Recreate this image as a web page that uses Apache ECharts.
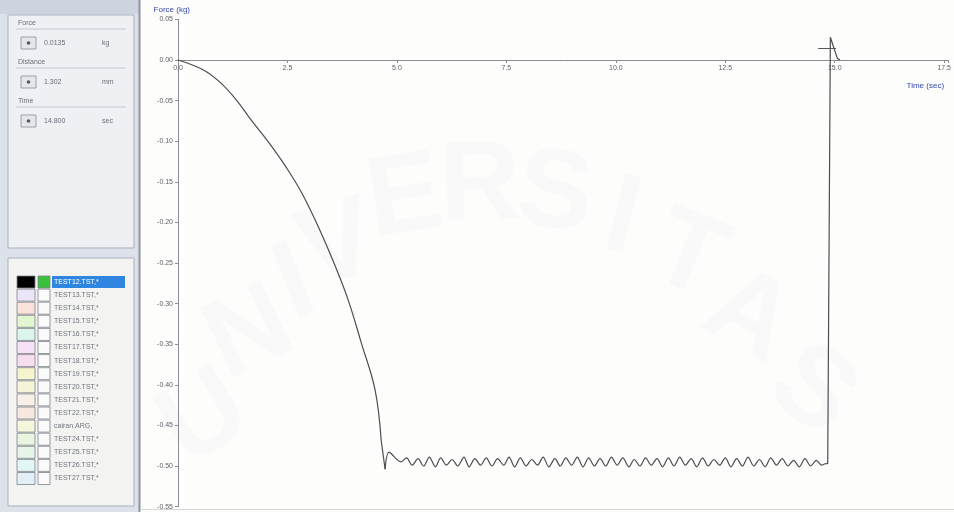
<!DOCTYPE html>
<html>
<head>
<meta charset="utf-8">
<script src="https://cdn.jsdelivr.net/npm/echarts@6/dist/echarts.min.js"></script>
<style>
  html, body { margin: 0; padding: 0; background: #fdfdfb; }
  #chart { width: 954px; height: 512px; }
</style>
</head>
<body>
<div id="chart"></div>
<script>
// Test record: force (kg) against time (sec)
const timeSec = [
  0.00, 0.57, 0.95, 1.33, 1.70, 2.08, 2.47, 2.83, 3.21, 3.60, 3.89, 4.19, 4.50, 4.64, 4.73, 4.82, 5.09,
  5.22, 5.35, 5.48, 5.61, 5.74, 5.88, 6.00, 6.13, 6.26, 6.39, 6.53, 6.65, 6.78, 6.91, 7.04, 7.17,
  7.30, 7.44, 7.56, 7.69, 7.82, 7.95, 8.08, 8.21, 8.34, 8.47, 8.61, 8.73, 8.86, 8.99, 9.12, 9.25,
  9.38, 9.51, 9.64, 9.77, 9.90, 10.03, 10.16, 10.30, 10.42, 10.55, 10.68, 10.81, 10.94, 11.07, 11.20,
  11.33, 11.46, 11.59, 11.72, 11.85, 11.98, 12.11, 12.24, 12.37, 12.50, 12.63, 12.76, 12.89, 13.02,
  13.15, 13.28, 13.41, 13.54, 13.67, 13.80, 13.93, 14.06, 14.19, 14.32, 14.45, 14.58, 14.70, 14.79,
  14.84, 14.90, 15.06, 15.12
];
const forceKg = [
  0.000, -0.012, -0.027, -0.049, -0.076, -0.102, -0.132, -0.164, -0.206, -0.255, -0.296, -0.349, -0.406, -0.468, -0.504, -0.483, -0.495,
  -0.490, -0.499, -0.491, -0.500, -0.489, -0.501, -0.490, -0.499, -0.492, -0.500, -0.489, -0.501, -0.491, -0.499, -0.490, -0.500,
  -0.491, -0.499, -0.489, -0.501, -0.490, -0.500, -0.492, -0.499, -0.489, -0.501, -0.491, -0.500, -0.490, -0.499, -0.489, -0.501,
  -0.490, -0.500, -0.491, -0.500, -0.489, -0.499, -0.490, -0.501, -0.492, -0.500, -0.490, -0.499, -0.491, -0.501, -0.490,
  -0.500, -0.489, -0.499, -0.491, -0.501, -0.490, -0.500, -0.492, -0.499, -0.490, -0.501, -0.491, -0.500, -0.489,
  -0.500, -0.492, -0.501, -0.490, -0.499, -0.491, -0.500, -0.493, -0.501, -0.491, -0.500, -0.493, -0.499, -0.497,
  -0.497, 0.028, 0.002, 0.000
];
// sample indices splitting the trace: loading ramp | peak and hold | release
const rampEnd = 13;
const peakAt = 14;
const releaseAt = 91;
const yTicks = [0.05, 0.00, -0.05, -0.10, -0.15, -0.20, -0.25, -0.30, -0.35, -0.40, -0.45, -0.50, -0.55];
const cursorPoint = [14.90, 0.015];

// Side panel contents
const readoutNames = ['Force', 'Distance', 'Time'];
const readoutValues = ['0.0135', '1.302', '14.800'];
const readoutUnits = ['kg', 'mm', 'sec'];
const fileNames = [
  'TEST12.TST,*', 'TEST13.TST,*', 'TEST14.TST,*', 'TEST15.TST,*', 'TEST16.TST,*', 'TEST17.TST,*',
  'TEST18.TST,*', 'TEST19.TST,*', 'TEST20.TST,*', 'TEST21.TST,*', 'TEST22.TST,*', 'cairan.ARG,',
  'TEST24.TST,*', 'TEST25.TST,*', 'TEST26.TST,*', 'TEST27.TST,*'
];
const fileColors = [
  '#000000', '#ece4f8', '#fae2da', '#e2f6d2', '#dcf6ee', '#f6e2f6', '#f8dcf0', '#f6f4cc',
  '#f6f4d8', '#f8f0e6', '#f8e8e2', '#f6f6dc', '#e8f6e0', '#e8f6ea', '#e2f6f6', '#e2eef8'
];
const watermark = 'UNIVERSITAS'.split('');

const chart = echarts.init(document.getElementById('chart'), null, { renderer: 'canvas' });

const font = 'Liberation Sans, Arial, sans-serif';
const graphics = [];

// faint background lettering behind the plot
const wmPos = [[205, 420, 0.55], [250, 335, 0.45], [295, 285, 0.38], [338, 248, 0.3], [405, 200, 0.15],
  [480, 188, 0.02], [555, 196, -0.1], [622, 220, -0.25], [688, 258, -0.38], [748, 318, -0.5], [812, 392, -0.62]];
watermark.forEach((ch, i) => {
  graphics.push({
    type: 'text', x: wmPos[i][0], y: wmPos[i][1], rotation: wmPos[i][2], z: -10,
    style: { text: ch, font: 'bold 112px Liberation Sans, Arial', fill: 'rgba(210,210,236,0.08)',
      textAlign: 'center', textVerticalAlign: 'middle' }
  });
});

// side panel frame
graphics.push({ type: 'rect', shape: { x: 0, y: 0, width: 139, height: 512 }, style: { fill: '#dde1ea' }, z: 1 });
graphics.push({ type: 'rect', shape: { x: 0, y: 0, width: 139, height: 14 }, style: { fill: '#cdd3df' }, z: 1 });
graphics.push({ type: 'line', shape: { x1: 139.5, y1: 0, x2: 139.5, y2: 512 }, style: { stroke: '#8d93a0', lineWidth: 2 }, z: 2 });
graphics.push({ type: 'rect', shape: { x: 8, y: 15, width: 126, height: 233 }, style: { fill: '#eef0f4', stroke: '#aab1be', lineWidth: 1 }, z: 2 });
graphics.push({ type: 'rect', shape: { x: 8, y: 258, width: 126, height: 248 }, style: { fill: '#f3f4f2', stroke: '#aab1be', lineWidth: 1 }, z: 2 });

readoutNames.forEach((name, i) => {
  const top = 20 + i * 39;
  graphics.push({ type: 'text', x: 18, y: top + 3, z: 3,
    style: { text: name, font: '7px ' + font, fill: '#6a6f78', textVerticalAlign: 'middle' } });
  graphics.push({ type: 'line', shape: { x1: 16, y1: top + 9, x2: 126, y2: top + 9 }, style: { stroke: '#c4c9d2', lineWidth: 1 }, z: 3 });
  graphics.push({ type: 'rect', shape: { x: 21, y: top + 17, width: 15, height: 12 }, style: { fill: '#e4e6ea', stroke: '#9aa0aa', lineWidth: 1 }, z: 3 });
  graphics.push({ type: 'circle', shape: { cx: 28.5, cy: top + 23, r: 1.8 }, style: { fill: '#55585e' }, z: 4 });
  graphics.push({ type: 'text', x: 44, y: top + 23, z: 3,
    style: { text: readoutValues[i], font: '7px ' + font, fill: '#6a6f78', textVerticalAlign: 'middle' } });
  graphics.push({ type: 'text', x: 102, y: top + 23, z: 3,
    style: { text: readoutUnits[i], font: '7px ' + font, fill: '#6a6f78', textVerticalAlign: 'middle' } });
});

fileNames.forEach((name, i) => {
  const cy = 282 + i * 13.1;
  graphics.push({ type: 'rect', shape: { x: 17, y: cy - 6, width: 18, height: 12 }, style: { fill: fileColors[i], stroke: '#7d828c', lineWidth: 0.8 }, z: 3 });
  graphics.push({ type: 'rect', shape: { x: 38, y: cy - 6, width: 12, height: 12 }, style: { fill: i === 0 ? '#37c23a' : '#fbfbfb', stroke: '#7d828c', lineWidth: 0.8 }, z: 3 });
  if (i === 0) {
    graphics.push({ type: 'rect', shape: { x: 52, y: cy - 6, width: 73, height: 12 }, style: { fill: '#2f86e0' }, z: 3 });
  }
  graphics.push({ type: 'text', x: 54, y: cy, z: 4,
    style: { text: name, font: '7px ' + font, fill: i === 0 ? '#ffffff' : '#70757e', textVerticalAlign: 'middle' } });
});

// bottom edge of the plotting area
graphics.push({ type: 'line', shape: { x1: 141, y1: 509.5, x2: 954, y2: 509.5 }, style: { stroke: '#d6d6d6', lineWidth: 1 }, z: 2 });

const gridTop = 19.4, gridBottom = 5.4, plotHeight = 512 - gridTop - gridBottom;
const yMin = -0.55, yMax = 0.05;
// distance from the bottom edge of the grid up to the zero line
const zeroLift = plotHeight * (0 - yMin) / (yMax - yMin);

const points = timeSec.map((t, i) => [t, forceKg[i]]);
const traceStyle = { color: '#4b4d52', width: 1.2 };
const traceSeries = (data, smooth) => ({
  type: 'line', data, showSymbol: false, smooth, lineStyle: traceStyle
});

chart.setOption({
  backgroundColor: '#fdfdfb',
  animation: false,
  grid: { left: 178, right: 0, top: gridTop, bottom: gridBottom, containLabel: false },
  graphic: graphics,
  xAxis: {
    type: 'value', min: 0, max: 17.6, interval: 2.5,
    position: 'bottom', offset: -zeroLift,
    name: 'Time (sec)', nameLocation: 'end', nameGap: -42,
    nameTextStyle: { color: '#3548b0', fontSize: 8, fontFamily: font, verticalAlign: 'top', padding: [22, 0, 0, 0] },
    axisLine: { onZero: false, lineStyle: { color: '#8a8d94', width: 1 } },
    axisTick: { show: true, length: 3, inside: false, lineStyle: { color: '#8a8d94' } },
    axisLabel: {
      color: '#60636a', fontSize: 7, fontFamily: font, margin: 5,
      formatter: v => (Math.abs(v / 2.5 - Math.round(v / 2.5)) < 1e-6 ? v.toFixed(1) : '')
    },
    splitLine: { show: false }
  },
  yAxis: {
    type: 'value', min: yMin, max: yMax, interval: 0.05,
    name: 'Force (kg)', nameLocation: 'end', nameGap: 6,
    nameTextStyle: { color: '#3548b0', fontSize: 8, fontFamily: font, align: 'right', padding: [0, -12, 0, 0] },
    axisLine: { onZero: true, lineStyle: { color: '#8a8d94', width: 1 } },
    axisTick: { show: true, length: 3, lineStyle: { color: '#8a8d94' } },
    axisLabel: {
      color: '#60636a', fontSize: 7, fontFamily: font, margin: 5,
      customValues: yTicks,
      formatter: v => v.toFixed(2)
    },
    splitLine: { show: false }
  },
  series: [
    traceSeries(points.slice(0, rampEnd + 1), 0.4),
    traceSeries(points.slice(rampEnd, peakAt + 1), false),
    traceSeries(points.slice(peakAt, releaseAt + 1), 0.3),
    Object.assign(traceSeries(points.slice(releaseAt), false), {
      markLine: {
        silent: true, symbol: 'none', label: { show: false },
        lineStyle: { color: '#55585e', width: 1, type: 'solid' },
        data: [[{ coord: [cursorPoint[0] - 0.28, cursorPoint[1]] }, { coord: [cursorPoint[0] + 0.13, cursorPoint[1]] }]]
      }
    })
  ]
});
</script>
</body>
</html>
